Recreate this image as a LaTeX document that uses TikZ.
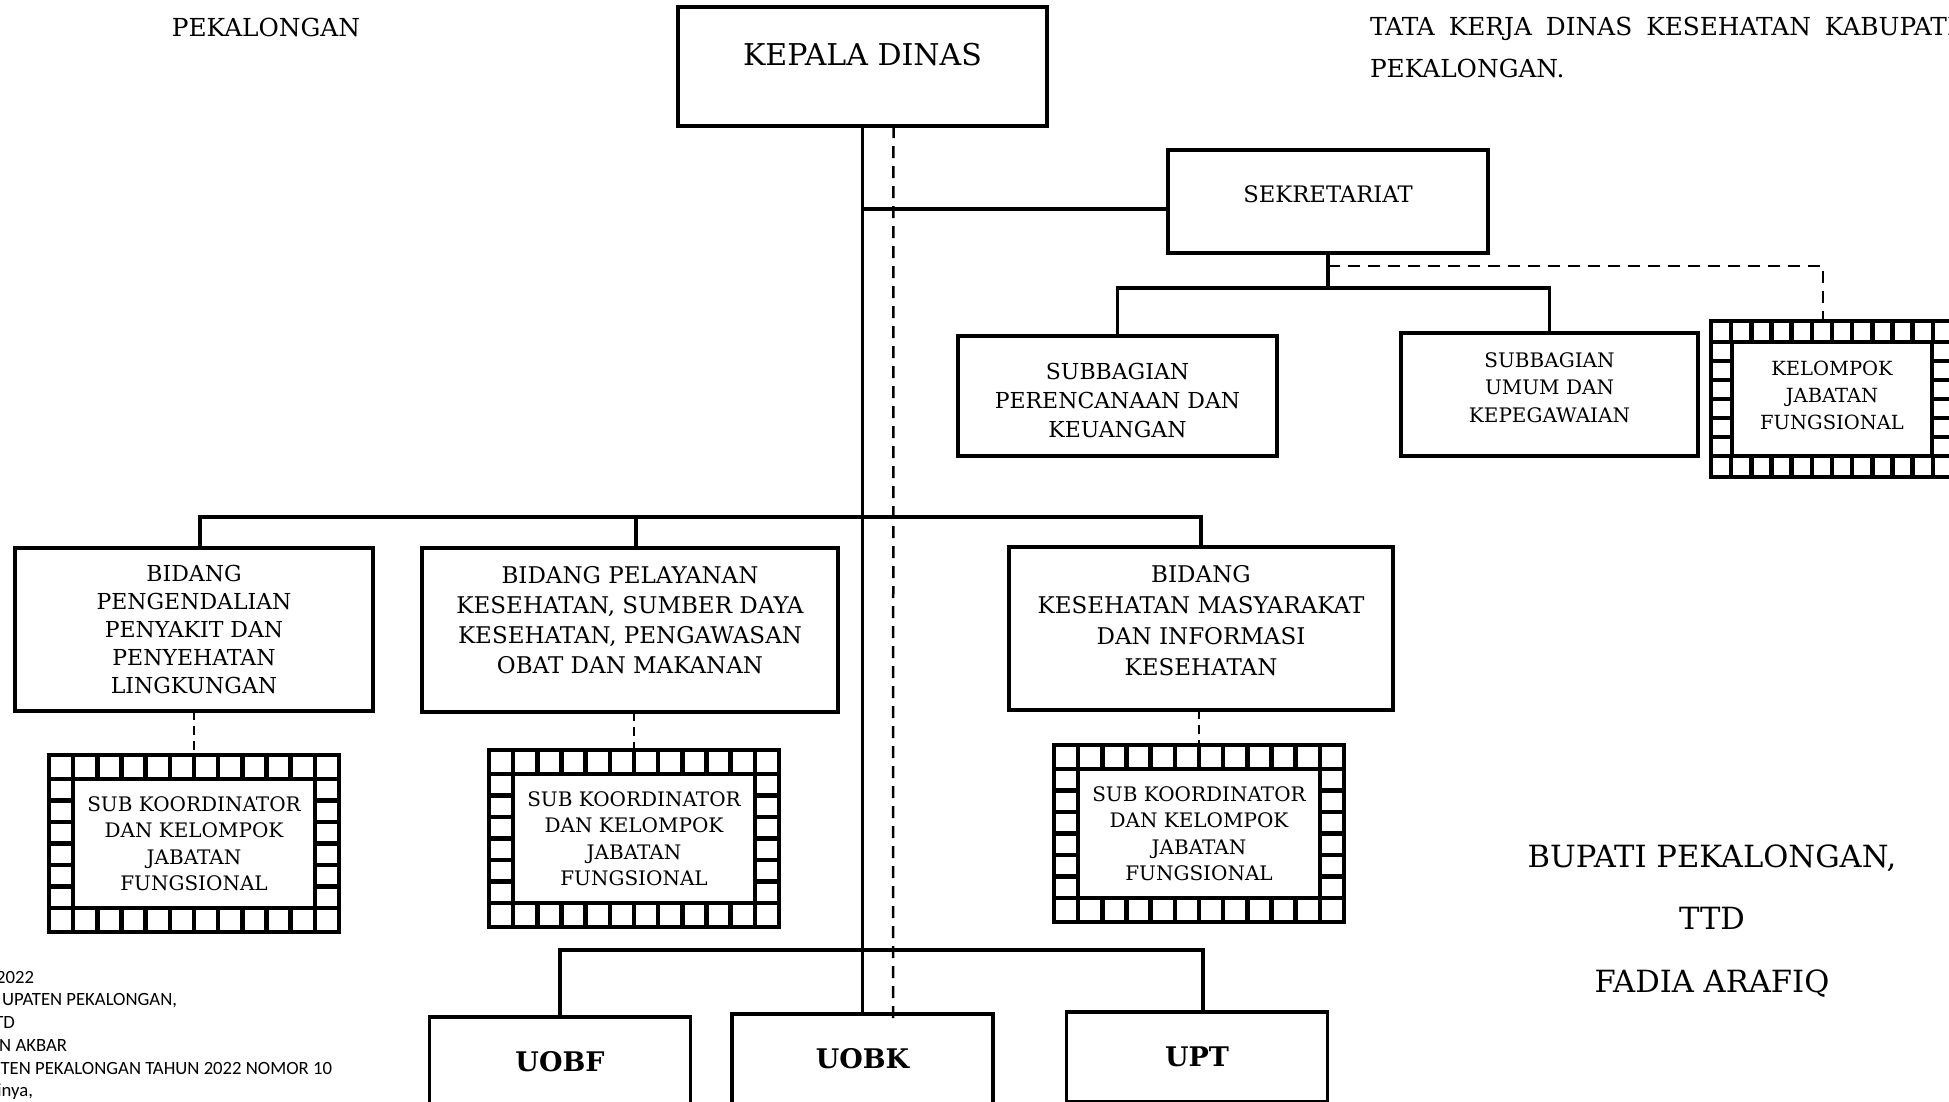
\documentclass[tikz,border=0pt]{standalone}
\usepackage{fontspec}
\setmainfont{DejaVu Serif}
\newfontfamily\calibri{Carlito}
\usetikzlibrary{calc}

% frame of cells round a node
\newcommand{\filmframe}[4]{%
  \coordinate (#1-nw) at ([xshift=-#2, yshift=#2]#1.north west);
  \coordinate (#1-ne) at ([xshift=#2, yshift=#2]#1.north east);
  \coordinate (#1-se) at ([xshift=#2, yshift=-#2]#1.south east);
  \coordinate (#1-sw) at ([xshift=-#2, yshift=-#2]#1.south west);
  \draw[frameln] (#1-nw) rectangle (#1-se);
  \draw[frameln] (#1-nw |- #1.north) -- (#1-ne |- #1.north);
  \draw[frameln] (#1-sw |- #1.south) -- (#1-se |- #1.south);
  \pgfmathtruncatemacro{\lastx}{#3-1}
  \pgfmathtruncatemacro{\lasty}{#4-1}
  \foreach \k in {1,...,\lastx} {
    \draw[frameln] ($(#1-nw)!\k/#3!(#1-ne)$) -- ++(0pt,-#2);
    \draw[frameln] ($(#1-sw)!\k/#3!(#1-se)$) -- ++(0pt,#2);
  }
  \foreach \k in {1,...,\lasty} {
    \draw[frameln] ($(#1.north west)!\k/#4!(#1.south west)$) -- ++(-#2,0pt);
    \draw[frameln] ($(#1.north east)!\k/#4!(#1.south east)$) -- ++(#2,0pt);
  }
}

\begin{document}
\begin{tikzpicture}[
  x=1pt, y=-1pt,
  box/.style={draw, line width=3.5pt, outer sep=0pt, inner sep=0pt, align=center, fill=white},
  filmbox/.style={box, line width=4.5pt, minimum width=242pt, minimum height=129pt, font=\fontsize{20pt}{26.5pt}\selectfont},
  unitbox/.style={box, minimum width=261pt, minimum height=90pt, font=\fontsize{27pt}{32pt}\selectfont\bfseries},
  conn/.style={line width=3.5pt},
  dashline/.style={line width=2.5pt, dash pattern=on 12pt off 8pt},
  dashthin/.style={line width=2pt, dash pattern=on 9pt off 6pt},
  frameln/.style={line width=4.5pt},
  plain/.style={inner sep=0pt, outer sep=0pt}
]
  \useasboundingbox (0,0) rectangle (1949,1101);
  \clip (0,0) rectangle (1949,1101);
  \fill[white] (0,0) rectangle (1949,1101);

  % Page text
  \node[plain, anchor=base, font=\fontsize{24.8pt}{29pt}\selectfont] (kota) at (266, 36) {PEKALONGAN};
  \node[plain, anchor=base west, font=\fontsize{24.8pt}{29pt}\selectfont] (judul1) at (1370, 35) {\spaceskip=14pt TATA KERJA DINAS KESEHATAN KABUPATEN};
  \node[plain, anchor=base west, font=\fontsize{24.8pt}{29pt}\selectfont] (judul2) at (1370, 77) {PEKALONGAN.};

  % Kepala dinas
  \node[box, minimum width=369pt, minimum height=119pt, text depth=25pt, font=\fontsize{30pt}{36pt}\selectfont] (kadis) at (862.5, 66.5) {KEPALA DINAS};

  % Sekretariat
  \node[box, minimum width=320pt, minimum height=103pt, text depth=15.5pt, font=\fontsize{22.7pt}{29pt}\selectfont] (sekre) at (1328, 201.5) {SEKRETARIAT};
  \node[box, minimum width=319pt, minimum height=120pt, text height=84pt, font=\fontsize{22pt}{29pt}\selectfont] (perenc) at (1117.5, 396) {SUBBAGIAN\\PERENCANAAN DAN\\KEUANGAN};
  \node[box, minimum width=297pt, minimum height=123pt, text depth=14pt, font=\fontsize{20pt}{27.5pt}\selectfont] (umum) at (1549.5, 394.5) {SUBBAGIAN\\UMUM DAN\\KEPEGAWAIAN};
  \node[filmbox, minimum width=200pt, minimum height=114pt, text depth=8pt, font=\fontsize{19.5pt}{27pt}\selectfont] (kjf) at (1832, 399) {KELOMPOK\\JABATAN\\FUNGSIONAL};
  \filmframe{kjf}{21pt}{12}{6}

  % Bidang
  \node[box, minimum width=358pt, minimum height=163pt, font=\fontsize{22pt}{28pt}\selectfont] (b1) at (194, 629.5) {BIDANG\\PENGENDALIAN\\PENYAKIT DAN\\PENYEHATAN\\LINGKUNGAN};
  \node[box, minimum width=416pt, minimum height=164pt, text depth=20pt, font=\fontsize{23pt}{30pt}\selectfont] (b2) at (630, 630) {BIDANG PELAYANAN\\KESEHATAN, SUMBER DAYA\\KESEHATAN, PENGAWASAN\\OBAT DAN MAKANAN};
  \node[box, minimum width=384pt, minimum height=163pt, text depth=17pt, font=\fontsize{23pt}{31pt}\selectfont] (b3) at (1201, 628.5) {BIDANG\\KESEHATAN MASYARAKAT\\DAN INFORMASI\\KESEHATAN};

  % Sub koordinator
  \node[filmbox] (s1) at (194, 843.5) {SUB KOORDINATOR\\DAN KELOMPOK\\JABATAN\\FUNGSIONAL};
  \filmframe{s1}{24pt}{12}{6}
  \node[filmbox] (s2) at (634, 838.5) {SUB KOORDINATOR\\DAN KELOMPOK\\JABATAN\\FUNGSIONAL};
  \filmframe{s2}{24pt}{12}{6}
  \node[filmbox] (s3) at (1199, 833.5) {SUB KOORDINATOR\\DAN KELOMPOK\\JABATAN\\FUNGSIONAL};
  \filmframe{s3}{24pt}{12}{6}

  % Unit
  \node[unitbox] (uobf) at (560, 1062) {UOBF};
  \node[unitbox] (uobk) at (862.5, 1059) {UOBK};
  \node[unitbox] (upt) at (1197, 1057) {UPT};

  % Tanda tangan
  \node[plain, anchor=base, font=\fontsize{30.6pt}{36pt}\selectfont] (bupati) at (1712, 867) {BUPATI PEKALONGAN,};
  \node[plain, anchor=base, font=\fontsize{30.6pt}{36pt}\selectfont] (ttd) at (1712, 929) {TTD};
  \node[plain, anchor=base, font=\fontsize{30.6pt}{36pt}\selectfont] (nama) at (1712, 992) {FADIA ARAFIQ};

  % Potongan teks kiri bawah
  \node[plain, anchor=base east, font=\calibri\fontsize{18.7pt}{22pt}\selectfont] (k1) at (34, 983) {2022};
  \node[plain, anchor=base east, font=\calibri\fontsize{18.7pt}{22pt}\selectfont] (k2) at (177, 1005) {UPATEN PEKALONGAN,};
  \node[plain, anchor=base east, font=\calibri\fontsize{18.7pt}{22pt}\selectfont] (k3) at (15, 1028) {TD};
  \node[plain, anchor=base east, font=\calibri\fontsize{18.7pt}{22pt}\selectfont] (k4) at (67, 1051) {N AKBAR};
  \node[plain, anchor=base east, font=\calibri\fontsize{18.7pt}{22pt}\selectfont] (k5) at (332, 1074) {TEN PEKALONGAN TAHUN 2022 NOMOR 10};
  \node[plain, anchor=base east, font=\calibri\fontsize{18.7pt}{22pt}\selectfont] (k6) at (33, 1096) {inya,};

  % Garis komando
  \draw[conn] (kadis.south) -- (uobk.north);
  \coordinate (sekrejoin) at ([yshift=-7.5pt]sekre.west);
  \draw[conn] (sekrejoin) -- (sekrejoin -| kadis.south);
  \coordinate (sekrebus) at ([yshift=-35pt]sekre.south);
  \draw[conn] (sekre.south) -- (sekrebus);
  \draw[conn] (perenc.north) -- (perenc.north |- sekrebus) -- (umum.north |- sekrebus) -- (umum.north);
  \coordinate (bidbus) at (0, 517);
  \draw[conn] ([xshift=6pt]b1.north) -- ([xshift=6pt]b1.north |- bidbus) -- (b3.north |- bidbus) -- (b3.north);
  \draw[conn] ([xshift=6pt]b2.north) -- ([xshift=6pt]b2.north |- bidbus);
  \coordinate (unitbus) at (0, 950);
  \draw[conn] (uobf.north) -- (uobf.north |- unitbus) -- ([xshift=6pt]upt.north |- unitbus) -- ([xshift=6pt]upt.north);

  % Garis koordinasi
  \coordinate (dashend) at (893, 1023);
  \draw[dashline] ([xshift=31pt]kadis.south) -- (dashend);
  \coordinate (kjftop) at ([xshift=-9pt, yshift=21pt]kjf.north);
  \draw[dashline] ([yshift=-13pt]sekre.south) -| (kjftop);
  \draw[dashthin] (b1.south) -- ([yshift=24pt]s1.north);
  \draw[dashthin] (s2.north |- b2.south) -- ([yshift=24pt]s2.north);
  \draw[dashthin] (s3.north |- b3.south) -- ([yshift=24pt]s3.north);
\end{tikzpicture}
\end{document}
